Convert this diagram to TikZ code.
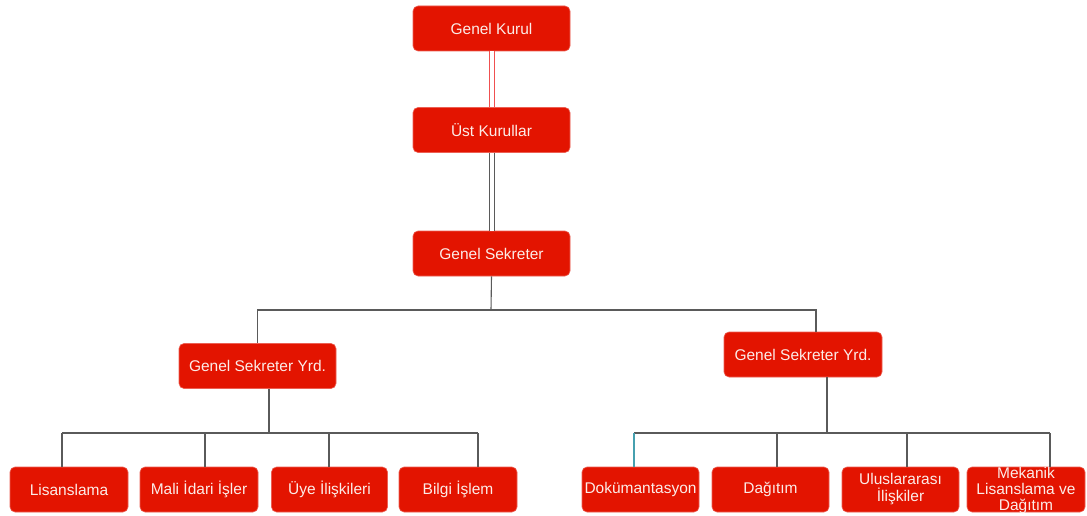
\documentclass[tikz,border=0pt]{standalone}
\usepackage{fontspec}
\setmainfont{Liberation Sans}
\definecolor{boxred}{RGB}{227,20,0}
\definecolor{boxedge}{RGB}{236,96,84}
\definecolor{boxtext}{RGB}{252,236,232}
\definecolor{linkgray}{RGB}{90,90,90}
\definecolor{linkred}{RGB}{240,80,80}
\definecolor{linkteal}{RGB}{70,160,175}
\tikzset{
  box/.style={draw=boxedge, fill=boxred, rounded corners=5pt, line width=0.6pt,
    text=boxtext, minimum width=157pt, minimum height=45pt, inner sep=0pt,
    font=\fontsize{15.5}{17}\selectfont, align=center},
  leaf/.style={box, minimum width=118pt},
  link/.style={draw=linkgray, line width=1.1pt},
  dlink/.style={line width=1pt, double=white, double distance=4pt},
}
\begin{document}
\begin{tikzpicture}[x=1pt, y=-1pt]
      \useasboundingbox[fill=white] (0,0) rectangle (1087,516);
      % top chain
      \node[box] (kurul) at (491.5, 28.5) {Genel Kurul};
      \node[box] (ust) at (491.5, 130) {Üst Kurullar};
      \node[box] (sekreter) at (491.5, 253.5) {Genel Sekreter};
      \draw[dlink, draw=linkred] (kurul.south) -- (ust.north);
      \draw[dlink, draw=linkgray] (ust.south) -- (sekreter.north);
      % assistants
      \node[box] (yrdl) at (257.5, 366) {Genel Sekreter Yrd.};
      \node[box, minimum width=158pt] (yrdr) at (803, 354.5) {Genel Sekreter Yrd.};
      \coordinate (busa) at (491, 310);
      \coordinate (dropr) at (816, 310);
      \draw[link] (sekreter.south) -- (busa);
      \draw[link] (busa) -| (yrdl.north);
      \draw[link] (busa) -- (dropr) -- (dropr |- yrdr.north);
      % left units
      \node[leaf] (lis) at (69, 489.5) {Lisanslama};
      \node[leaf] (mali) at (199, 489.5) {Mali İdari İşler};
      \node[leaf, minimum width=116pt] (uye) at (329.5, 489.5) {Üye İlişkileri};
      \node[leaf] (bilgi) at (458, 489.5) {Bilgi İşlem};
      \coordinate (lbus) at (269, 433);
      \coordinate (l1) at (62, 433);
      \coordinate (l2) at (205, 433);
      \coordinate (l3) at (329, 433);
      \coordinate (l4) at (478, 433);
      \draw[link] (yrdl.south -| lbus) -- (lbus);
      \draw[link] (l1) -- (l4);
      \foreach \c/\n in {l1/lis, l2/mali, l3/uye, l4/bilgi}
        \draw[link] (\c) -- (\c |- \n.north);
      % right units
      \node[leaf, minimum width=117pt] (dok) at (640.5, 489.5) {Dokümantasyon};
      \node[leaf, minimum width=117pt] (dag) at (770.5, 489.5) {Dağıtım};
      \node[leaf, minimum width=117pt] (ulus) at (900.5, 489.5) {Uluslararası\\İlişkiler};
      \node[leaf] (mek) at (1026, 489.5)
        {\raisebox{-11pt}{\smash{\fontsize{15.5}{16}\selectfont\begin{tabular}{@{}c@{}}Mekanik\\Lisanslama ve\\Dağıtım\end{tabular}}}};
      \coordinate (rbus) at (827, 433);
      \coordinate (r1) at (634, 433);
      \coordinate (r2) at (777, 433);
      \coordinate (r3) at (907, 433);
      \coordinate (r4) at (1050, 433);
      \draw[link] (yrdr.south -| rbus) -- (rbus);
      \draw[link] (r1) -- (r4);
      \draw[link, draw=linkteal] (r1) -- (r1 |- dok.north);
      \foreach \c/\n in {r2/dag, r3/ulus, r4/mek}
        \draw[link] (\c) -- (\c |- \n.north);
\end{tikzpicture}
\end{document}
